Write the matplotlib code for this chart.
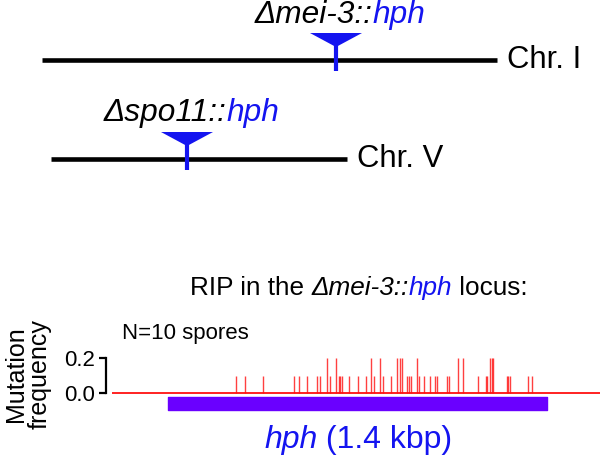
import matplotlib.pyplot as plt
import numpy as np

plt.rcParams['font.family'] = ['Liberation Sans', 'DejaVu Sans']

BLUE = '#1414f0'
PURPLE = '#6a00ff'
RED = '#ff1010'

# schematic chromosomes (drawing units = pixels of the 600x458 panel)
chrom_names = ['Chr. I', 'Chr. V']
chrom_start = [42, 51]
chrom_end = [497, 347]
insert_pos = [336, 187]
insert_label = ['\u0394mei-3::', '\u0394spo11::']

# RIP mutations in hph, position in bp from gene start, frequency (N=10 spores)
mut_pos = [253, 288, 351, 468, 486, 517, 552, 564, 591, 601, 623, 633, 639, 644,
           672, 702, 733, 751, 764, 784, 797, 827, 849, 857, 868, 884, 891, 899,
           920, 929, 948, 968, 988, 994, 1031, 1039, 1073, 1093, 1146, 1176, 1180,
           1191, 1197, 1202, 1253, 1257, 1267, 1333, 1346]
mut_freq = [0.1, 0.1, 0.1, 0.1, 0.1, 0.1, 0.1, 0.1, 0.2, 0.1, 0.2, 0.1, 0.1, 0.1,
            0.1, 0.1, 0.1, 0.2, 0.1, 0.2, 0.1, 0.1, 0.2, 0.2, 0.2, 0.1, 0.1, 0.1,
            0.2, 0.1, 0.1, 0.1, 0.1, 0.1, 0.1, 0.1, 0.2, 0.2, 0.1, 0.1, 0.1,
            0.2, 0.2, 0.2, 0.1, 0.1, 0.1, 0.1, 0.1]
gene_start = 0
gene_end = 1400
yticks = [0.0, 0.2]
ytick_labels = ['0.0', '0.2']


def two_color(ax, x, y, black, blue, size):
    t = ax.text(x, y, black, fontsize=size, style='italic', va='center')
    ax.annotate(blue, xy=(1, 0), xycoords=t, va='bottom', ha='left',
                fontsize=size, style='italic', color=BLUE)
    return t


fig = plt.figure(figsize=(6, 4.58), dpi=100)
ax = fig.add_axes([0, 0, 1, 1])
ax.set_xlim(0, 600)
ax.set_ylim(458, 0)
ax.axis('off')

chrom_y = [60, 159]
label_x = [255, 104]
label_y = [15, 113]
for i in range(2):
    y = chrom_y[i]
    ax.plot([chrom_start[i], chrom_end[i]], [y, y], color='black', lw=3.3,
            solid_capstyle='butt')
    x = insert_pos[i]
    ax.fill([x - 26, x + 26, x], [y - 27, y - 27, y - 13], color=BLUE, lw=0)
    ax.plot([x, x], [y - 15, y + 11], color=BLUE, lw=3, solid_capstyle='butt')
    ax.text(chrom_end[i] + 10, y, chrom_names[i], fontsize=22.3, va='center')
    two_color(ax, label_x[i], label_y[i], insert_label[i], 'hph', 22.8)

# title line with mixed styles
t1 = ax.text(190, 288, 'RIP in the ', fontsize=18.8, va='center')
t2 = ax.annotate('\u0394mei-3::', xy=(1, 0), xycoords=t1, va='bottom',
                 fontsize=18.8, style='italic')
t3 = ax.annotate('hph', xy=(1, 0), xycoords=t2, va='bottom', fontsize=18.8,
                 style='italic', color=BLUE)
ax.annotate(' locus:', xy=(1, 0), xycoords=t3, va='bottom', fontsize=18.8)

ax.text(122, 334, 'N=10 spores', fontsize=16, va='center')
ax.text(28, 374, 'Mutation\nfrequency', fontsize=18, rotation=90,
        ha='center', va='center', linespacing=0.95)

t4 = ax.text(264, 440, 'hph', fontsize=23, style='italic', color=BLUE,
             va='center')
ax.annotate(' (1.4 kbp)', xy=(1, 0), xycoords=t4, va='bottom', fontsize=23,
            color=BLUE)

# mutation plot
px_per_bp = (546.5 - 167.5) / (gene_end - gene_start)
x0 = gene_start - (167.5 - 112) / px_per_bp
x1 = gene_start + (600 - 167.5) / px_per_bp
ylo, yhi = -0.1, 0.25
ax2 = fig.add_axes([112 / 600, 1 - (393 + 0.1 * 175) / 458,
                    488 / 600, (yhi - ylo) * 175 / 458])
ax2.set_xlim(x0, x1)
ax2.set_ylim(ylo, yhi)
ax2.patch.set_alpha(0)
ax2.vlines(mut_pos, 0, mut_freq, color=RED, lw=1.0, alpha=0.8)
ax2.axhline(0, color=RED, lw=1.3)
ax2.broken_barh([(gene_start, gene_end - gene_start)], (-0.097, 0.075),
                color=PURPLE)
for s in ['top', 'right', 'bottom']:
    ax2.spines[s].set_visible(False)
ax2.spines['left'].set_position(('outward', 4))
ax2.spines['left'].set_bounds(0, 0.2)
ax2.spines['left'].set_linewidth(1.6)
ax2.set_yticks(yticks)
ax2.set_yticklabels(ytick_labels, fontsize=16)
ax2.tick_params(axis='y', length=5, width=1.6, pad=3)
ax2.set_xticks([])

fig.savefig('out.png', dpi=100)
